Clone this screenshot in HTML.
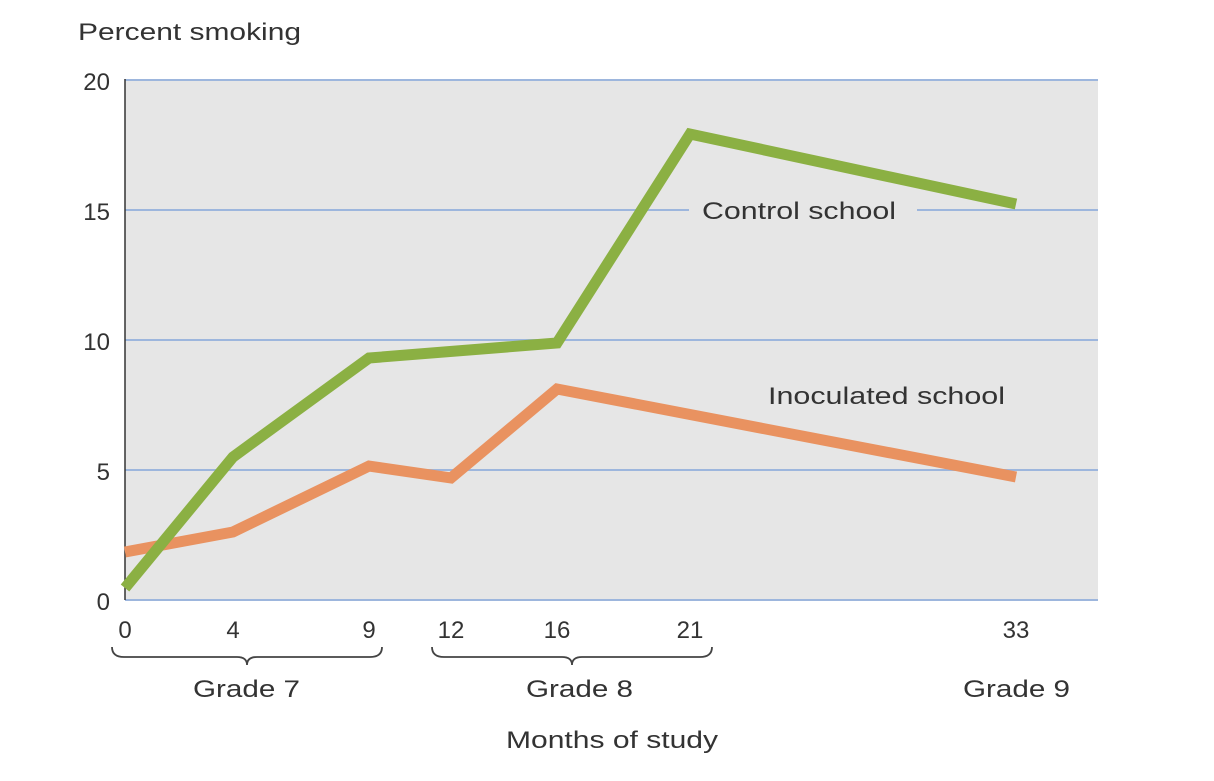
<!DOCTYPE html>
<html><head><style>body{margin:0;background:#fff}</style></head><body>
<svg width="1214" height="776" xmlns="http://www.w3.org/2000/svg" font-family="Liberation Sans, sans-serif" fill="#333">
<rect x="125" y="80" width="973" height="520" fill="#e6e6e6"/>
<g stroke="#9db6dd" stroke-width="2">
<line x1="125" y1="80" x2="1098" y2="80"/><line x1="125" y1="210" x2="1098" y2="210"/>
<line x1="125" y1="340" x2="1098" y2="340"/><line x1="125" y1="470" x2="1098" y2="470"/>
<line x1="125" y1="600" x2="1098" y2="600"/></g>
<line x1="125" y1="79" x2="125" y2="600" stroke="#333" stroke-width="1.5"/>
<rect x="689" y="206" width="228" height="8" fill="#e6e6e6"/>
<text x="702" y="219" font-size="24" textLength="194" lengthAdjust="spacingAndGlyphs">Control school</text>
<text x="768" y="404" font-size="24" textLength="237" lengthAdjust="spacingAndGlyphs">Inoculated school</text>
<polyline points="125,552 233,532 369,466 451,478 557,389 1016,477" fill="none" stroke="#e99260" stroke-width="11" stroke-linejoin="miter"/>
<polyline points="125,588 233,457 369,358 557,343 690,134 1016,204" fill="none" stroke="#8bb043" stroke-width="11" stroke-linejoin="miter"/>
<g font-size="24" text-anchor="end"><text x="110" y="90">20</text><text x="110" y="220">15</text><text x="110" y="350">10</text><text x="110" y="480">5</text><text x="110" y="610">0</text></g>
<text x="78" y="40" font-size="24" textLength="223" lengthAdjust="spacingAndGlyphs">Percent smoking</text>
<g font-size="24" text-anchor="middle"><text x="125" y="638">0</text><text x="233" y="638">4</text><text x="369" y="638">9</text><text x="451" y="638">12</text><text x="557" y="638">16</text><text x="690" y="638">21</text><text x="1016" y="638">33</text></g>
<g font-size="24">
<text x="193" y="697" textLength="107" lengthAdjust="spacingAndGlyphs">Grade 7</text>
<text x="526" y="697" textLength="107" lengthAdjust="spacingAndGlyphs">Grade 8</text>
<text x="963" y="697" textLength="107" lengthAdjust="spacingAndGlyphs">Grade 9</text>
<text x="506" y="748" textLength="212" lengthAdjust="spacingAndGlyphs">Months of study</text></g>
<g fill="none" stroke="#444" stroke-width="1.8">
<path d="M112,647 Q112,657 124,657 L237,657 Q247,657 247,665 Q247,657 257,657 L370,657 Q382,657 382,647"/>
<path d="M432,647 Q432,657 444,657 L562,657 Q572,657 572,665 Q572,657 582,657 L700,657 Q712,657 712,647"/>
</g>
</svg>
</body></html>
